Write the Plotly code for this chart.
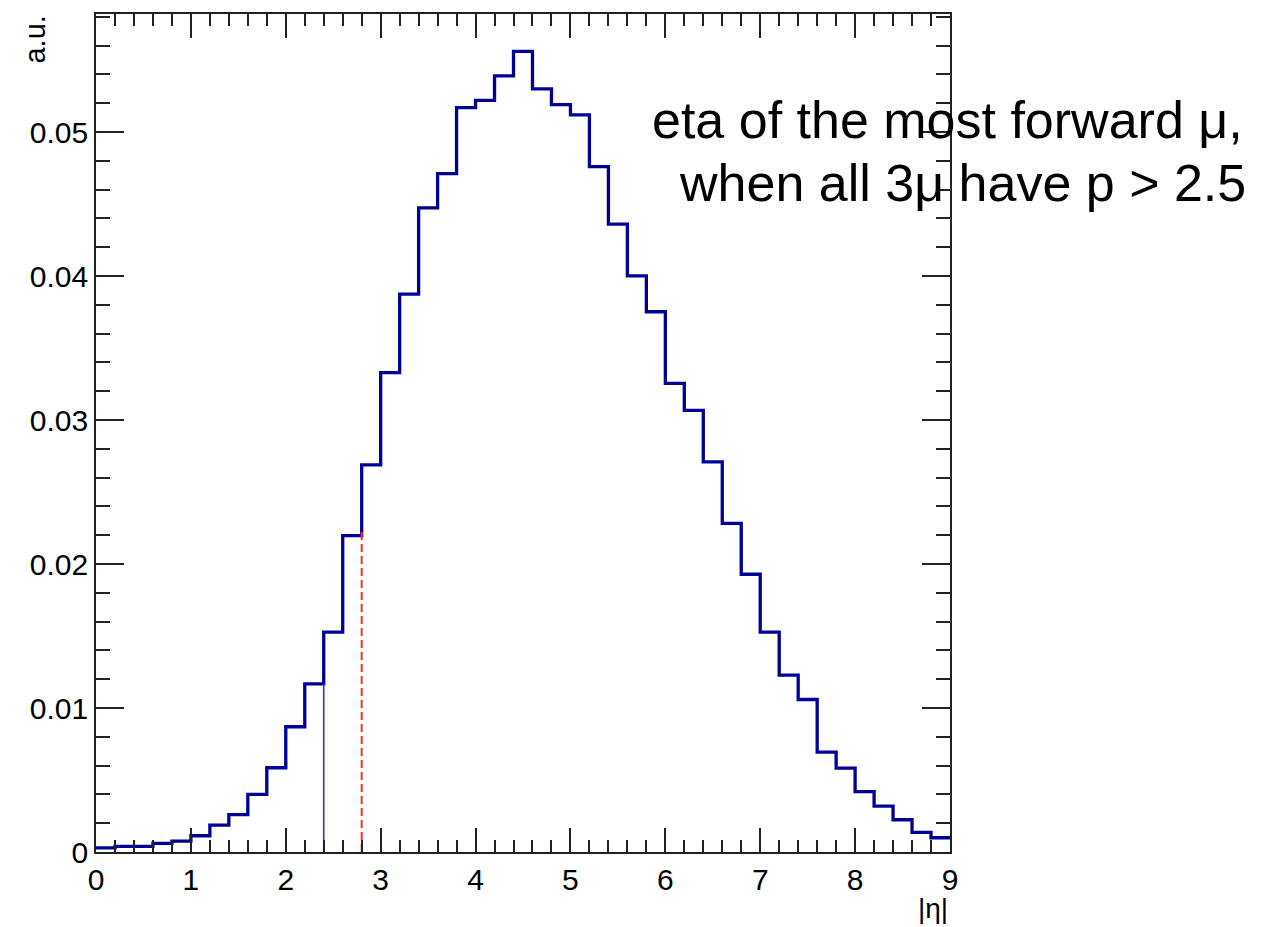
import numpy as np
import plotly.graph_objects as go

# |eta| of the most forward muon, 45 bins of width 0.2 on [0, 9]
bin_low = 0.0
bin_width = 0.2
eta_counts = [
    0.00028, 0.00039, 0.00039, 0.00060, 0.00076, 0.00113, 0.00187, 0.00260,
    0.00400, 0.00585, 0.00870, 0.01168, 0.01527, 0.02197, 0.02689, 0.03330,
    0.03874, 0.04473, 0.04712, 0.05170, 0.05220, 0.05390, 0.05560, 0.05300,
    0.05190, 0.05120, 0.04760, 0.04360, 0.04001, 0.03752, 0.03255, 0.03067,
    0.02709, 0.02283, 0.01929, 0.01527, 0.01228, 0.01059, 0.00694, 0.00583,
    0.00420, 0.00319, 0.00224, 0.00136, 0.00099,
]

# acceptance markers
cut_solid_x = 2.4
cut_solid_top = 0.01168
cut_dashed_x = 2.8
cut_dashed_top = 0.0225

y_ticks = [0, 0.01, 0.02, 0.03, 0.04, 0.05]
y_tick_text = ["0", "0.01", "0.02", "0.03", "0.04", "0.05"]
x_ticks = [0, 1, 2, 3, 4, 5, 6, 7, 8, 9]

edges = bin_low + bin_width * np.arange(len(eta_counts) + 1)
step_y = list(eta_counts) + [eta_counts[-1]]

FONT = "Liberation Sans, Arial, sans-serif"
AXIS_COL = "#222222"
HIST_COL = "#000099"

fig = go.Figure()

fig.add_trace(go.Scatter(
    x=edges, y=step_y, mode="lines", line_shape="hv",
    line=dict(color=HIST_COL, width=3.3), hoverinfo="skip", showlegend=False,
))
fig.add_trace(go.Scatter(
    x=[cut_solid_x, cut_solid_x], y=[0, cut_solid_top], mode="lines",
    line=dict(color="#3a3aa8", width=1.6), showlegend=False,
))
fig.add_trace(go.Scatter(
    x=[cut_dashed_x, cut_dashed_x], y=[0, cut_dashed_top], mode="lines",
    line=dict(color="#ff2a2a", width=2, dash="8px,4px"), showlegend=False,
))

fig.update_layout(
    width=1288, height=927,
    margin=dict(l=96, r=338, t=14, b=75),
    paper_bgcolor="white", plot_bgcolor="white",
    font=dict(family=FONT, color="black"),
    showlegend=False,
)

fig.update_xaxes(
    range=[0, 9], tickvals=x_ticks, ticktext=[str(v) for v in x_ticks],
    ticks="inside", ticklen=24, tickwidth=1.5, tickcolor=AXIS_COL,
    minor=dict(dtick=0.2, ticks="inside", ticklen=12, tickwidth=1.5, tickcolor=AXIS_COL),
    showline=True, linecolor=AXIS_COL, linewidth=1.8, mirror="ticks",
    showgrid=False, zeroline=False,
    tickfont=dict(size=30, family=FONT, color="black"),
)
fig.update_yaxes(
    range=[0, 0.0582], tickvals=y_ticks, ticktext=y_tick_text,
    ticks="inside", ticklen=28, tickwidth=1.5, tickcolor=AXIS_COL,
    minor=dict(dtick=0.002, ticks="inside", ticklen=14, tickwidth=1.5, tickcolor=AXIS_COL),
    showline=True, linecolor=AXIS_COL, linewidth=1.8, mirror="ticks",
    showgrid=False, zeroline=False,
    tickfont=dict(size=30, family=FONT, color="black"),
)

# axis titles placed ROOT-style at the far ends of the axes
fig.add_annotation(
    text="a.u.", xref="paper", yref="paper", x=-0.072, y=1.0,
    xanchor="center", yanchor="top", textangle=-90, showarrow=False,
    font=dict(size=29, family=FONT, color="black"),
)
fig.add_annotation(
    text="|η|", xref="paper", yref="paper", x=1.0, y=(852 - 908) / 838,
    xanchor="right", yanchor="middle", showarrow=False,
    font=dict(size=28, family=FONT, color="black"),
)

# caption text
fig.add_annotation(
    text="eta of the most forward μ,", xref="paper", yref="paper",
    x=(947 - 96) / 854, y=(852 - 120) / 838, xanchor="center", yanchor="middle",
    showarrow=False, font=dict(size=52, family=FONT, color="black"),
)
fig.add_annotation(
    text="when all 3μ have p > 2.5", xref="paper", yref="paper",
    x=(962 - 96) / 854, y=(852 - 183) / 838, xanchor="center", yanchor="middle",
    showarrow=False, font=dict(size=52, family=FONT, color="black"),
)

fig.write_html("out.html")
